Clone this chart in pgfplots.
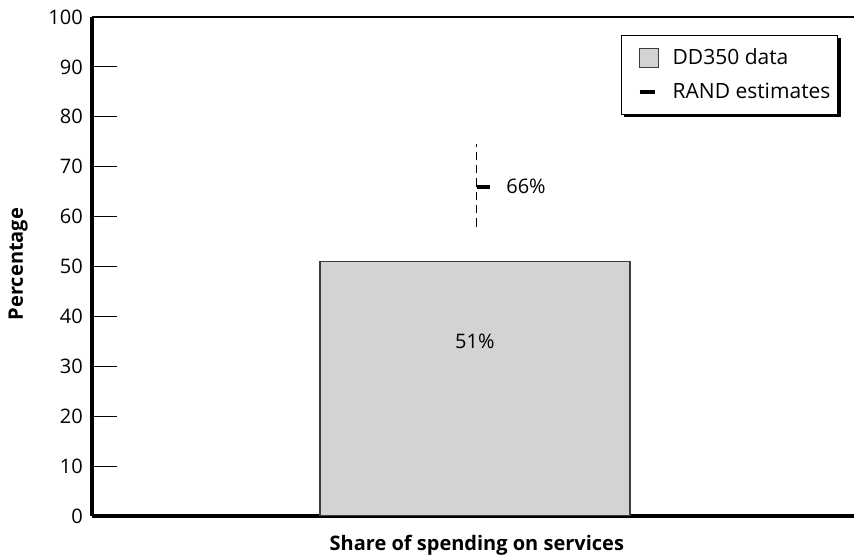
\documentclass[border=0pt]{standalone}
\usepackage{pgfplots}
\pgfplotsset{compat=1.18}
\usepackage{fontspec}
\setmainfont{Open Sans}
\definecolor{barfill}{RGB}{210,211,213}
\definecolor{bardraw}{RGB}{60,60,60}
\newcommand\cf{\fontsize{12}{14}\selectfont}
\newcommand\lf{\fontsize{12.6}{14}\selectfont}
\begin{document}
\begin{tikzpicture}
\useasboundingbox (-55.2pt,-25.2pt) rectangle (457.2pt,309.6pt);
\begin{axis}[
  scale only axis, width=457.2pt, height=299.4pt,
  xmin=-1.235, xmax=1.223, ymin=0, ymax=100,
  ytick={0,10,...,100}, xtick=\empty,
  axis x line*=bottom, axis y line*=left,
  axis line style={-, line width=2.2pt},
  tick align=inside, major tick length=15pt,
  tick style={line width=0.6pt, black},
  /pgf/number format/assume math mode=true,
  font=\cf,
  yticklabel style={font=\cf, xshift=-2pt},
  ylabel={\bfseries Percentage},
  xlabel={\bfseries Share of spending on services},
  ylabel style={font=\cf, at={(axis description cs:-0.097,0.505)}, anchor=center},
  xlabel style={font=\cf, at={(axis description cs:0.505,-0.058)}, anchor=center},
  legend style={name=leg, at={(rel axis cs:0.979,0.964)}, anchor=north east,
    draw=black, line width=0.6pt, fill=white,
    inner xsep=2.2pt, inner ysep=6pt, row sep=5.5pt,
    font=\lf},
  legend cell align=left,
]
\addplot[ybar, bar width=186pt, fill=barfill, draw=bardraw, line width=0.9pt,
  legend image code/.code={\draw[fill=barfill, draw=bardraw, line width=0.6pt] (8.2pt,-5.7pt) rectangle (19.6pt,5.7pt);\path (0pt,0pt) (25.6pt,0pt);}]
  coordinates {(0,51)};
\addlegendentry{DD350 data}
\addplot[forget plot, black, line width=0.6pt, dash pattern=on 5pt off 3pt]
  coordinates {(0.0065,58) (0.0065,74.5)};
\addplot[only marks, mark=-, mark size=3.9pt, mark options={line width=2.4pt, black},
  legend image code/.code={\draw[line width=2.4pt, black] (8.2pt,0pt) -- (17.2pt,0pt);\path (0pt,0pt) (25.6pt,0pt);}]
  coordinates {(0.027,66)};
\addlegendentry{RAND estimates}
\draw[line width=0.8pt] (rel axis cs:0,1) -- (rel axis cs:1,1);
\node[font=\cf] at (axis cs:0,35) {51\%};
\node[font=\cf] at (axis cs:0.165,66) {66\%};
\end{axis}
\draw[black, line width=1.5pt] ([xshift=1.8pt,yshift=-0.75pt]leg.south west) -- ([xshift=0.75pt,yshift=-0.75pt]leg.south east) -- ([xshift=0.75pt,yshift=-1.8pt]leg.north east);
\end{tikzpicture}
\end{document}
